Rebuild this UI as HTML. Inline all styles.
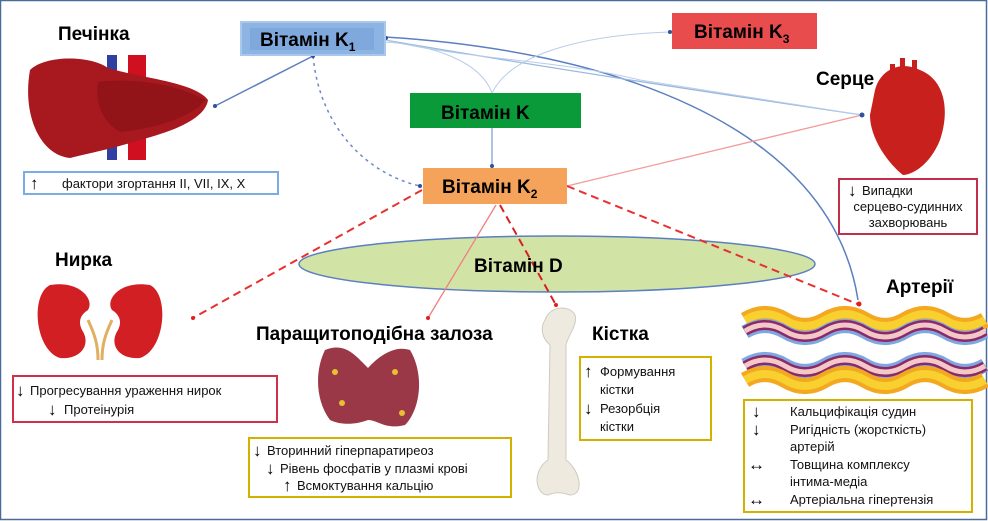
<!DOCTYPE html>
<html><head><meta charset="utf-8"><style>
html,body{margin:0;padding:0;background:#fff}
svg{display:block}
text{font-family:"Liberation Sans",sans-serif}
.b{font-weight:bold;font-size:19px;fill:#000}
.s{font-size:13px;fill:#111}
.a{font-size:17px;fill:#000;font-weight:bold}
</style></head><body>
<svg width="988" height="521" viewBox="0 0 988 521" xmlns="http://www.w3.org/2000/svg">
<rect x="0.5" y="0.5" width="986" height="519" fill="#fff" stroke="#4a6a9a" stroke-width="1.5"/>

<ellipse cx="557" cy="264" rx="258" ry="28" fill="#d2e3a6" stroke="#5b7fc0" stroke-width="1.5"/>

<g fill="none">
<path d="M385 37 C600 50 830 120 858 300" stroke="#5b7fc0" stroke-width="1.5"/>
<path d="M385 40 C560 70 760 100 862 115" stroke="#9ab8e0" stroke-width="1.3"/>
<path d="M385 40 C470 60 560 60 640 80 L862 115" stroke="#b8cde8" stroke-width="1"/>
<path d="M492 93 C480 60 430 45 385 42" stroke="#b8cde8" stroke-width="1"/>
<path d="M492 93 C510 55 580 35 670 32" stroke="#b8cde8" stroke-width="1"/>
<path d="M492 128 L492 166" stroke="#7a9ad0" stroke-width="1.2"/>
<path d="M313 56 L215 106" stroke="#5b7fc0" stroke-width="1.5"/>
<path d="M313 56 C320 130 370 175 420 186" stroke="#6a88c8" stroke-width="1.5" stroke-dasharray="3,4"/>
<path d="M567 186 L862 115" stroke="#f29a9a" stroke-width="1.3"/>
<path d="M567 186 L860 305" stroke="#e83030" stroke-width="2" stroke-dasharray="8,5"/>
<path d="M422 190 L193 318" stroke="#e83030" stroke-width="2" stroke-dasharray="8,5"/>
<path d="M496 205 L428 318" stroke="#f08080" stroke-width="1.3"/>
<path d="M500 205 L556 305" stroke="#d82020" stroke-width="2" stroke-dasharray="8,5"/>
</g>
<g fill="#3050a0"><circle cx="215" cy="106" r="2"/><circle cx="313" cy="56" r="2"/><circle cx="420" cy="186" r="2"/><circle cx="862" cy="115" r="2.5"/><circle cx="670" cy="32" r="2"/><circle cx="492" cy="166" r="2"/><circle cx="386" cy="38" r="2"/></g>
<g fill="#e02020"><circle cx="193" cy="318" r="2"/><circle cx="428" cy="318" r="2"/><circle cx="556" cy="305" r="2"/><circle cx="859" cy="304" r="2.5"/></g>

<rect x="241" y="22" width="144" height="33" fill="#8db4e2" stroke="#a8c8ec" stroke-width="2"/>
<rect x="250" y="28" width="124" height="22" fill="#7fa9dc"/>
<text x="260" y="46" class="b">Вітамін K<tspan font-size="12" dy="5">1</tspan></text>
<rect x="672" y="13" width="145" height="36" fill="#e84c4c"/>
<text x="694" y="38" class="b">Вітамін K<tspan font-size="12" dy="5">3</tspan></text>
<rect x="410" y="93" width="171" height="35" fill="#0a9a3a"/>
<text x="441" y="119" class="b">Вітамін K</text>
<rect x="423" y="168" width="144" height="36" fill="#f5a35a"/>
<text x="442" y="193" class="b">Вітамін K<tspan font-size="12" dy="5">2</tspan></text>
<text x="474" y="272" class="b">Вітамін D</text>

<text x="58" y="40" class="b">Печінка</text>
<text x="816" y="85" class="b">Серце</text>
<text x="55" y="266" class="b">Нирка</text>
<text x="256" y="340" class="b">Паращитоподібна залоза</text>
<text x="592" y="340" class="b">Кістка</text>
<text x="886" y="293" class="b">Артерії</text>

<!-- liver -->
<rect x="107" y="55" width="10" height="105" fill="#3040a0"/>
<rect x="128" y="55" width="18" height="105" fill="#d01020"/>
<path d="M30 70 C45 55 90 55 108 68 C140 78 195 82 208 100 C205 120 170 132 140 140 C115 148 95 152 70 158 C40 155 22 115 30 70Z" fill="#a8181f"/>
<path d="M98 82 C125 78 175 82 205 100 C195 115 160 128 120 132 C100 120 95 100 98 82Z" fill="#921418"/>
<!-- heart -->
<path d="M875 90 C880 70 900 60 920 70 C945 80 950 110 940 140 C930 165 912 175 903 175 C890 165 870 140 870 115 Z" fill="#c8201c"/>
<rect x="900" y="58" width="5" height="20" fill="#c8201c"/><rect x="912" y="60" width="5" height="18" fill="#c8201c"/><rect x="890" y="64" width="5" height="18" fill="#c8201c"/>
<!-- kidneys -->
<path d="M50 285 C30 295 35 350 60 358 C80 360 92 345 82 330 C78 322 80 315 88 310 C95 300 80 280 50 285Z" fill="#d21f24"/>
<path d="M150 285 C170 295 165 350 140 358 C120 360 108 345 118 330 C122 322 120 315 112 310 C105 300 120 280 150 285Z" fill="#d21f24"/>
<path d="M88 320 C95 335 98 345 98 360 M112 320 C105 335 102 345 102 360" stroke="#e0b060" stroke-width="3" fill="none"/>
<!-- parathyroid -->
<path d="M325 350 C345 342 355 355 368 368 C380 355 395 345 410 350 C425 375 420 410 405 425 C385 430 378 420 368 420 C355 425 340 425 330 420 C315 400 315 370 325 350Z" fill="#9a3848"/>
<g fill="#e8c030"><circle cx="335" cy="372" r="3"/><circle cx="395" cy="372" r="3"/><circle cx="342" cy="403" r="3"/><circle cx="402" cy="413" r="3"/></g>
<!-- bone -->
<path d="M545 320 C550 305 570 305 575 315 C578 325 568 335 566 345 L566 460 C580 470 585 495 570 495 C560 492 555 492 548 495 C535 495 532 470 548 460 L550 345 C542 338 540 328 545 320Z" fill="#eeeae0" stroke="#cfcbbf"/>
<!-- arteries -->
<g fill="none">
<path d="M745 320 q20 -12 40 0 t40 0 t40 0 t40 0 t40 0 t40 0" stroke="#f3a820" stroke-width="16"/>
<path d="M745 320 q20 -12 40 0 t40 0 t40 0 t40 0 t40 0 t40 0" stroke="#f8d030" stroke-width="8"/>
<path d="M745 332 q20 -12 40 0 t40 0 t40 0 t40 0 t40 0 t40 0" stroke="#80a8e0" stroke-width="14"/>
<path d="M745 331 q20 -12 40 0 t40 0 t40 0 t40 0 t40 0 t40 0" stroke="#8a2a6a" stroke-width="10"/>
<path d="M745 331 q20 -12 40 0 t40 0 t40 0 t40 0 t40 0 t40 0" stroke="#f5c8c8" stroke-width="5"/>
<path d="M745 365 q20 -12 40 0 t40 0 t40 0 t40 0 t40 0 t40 0" stroke="#80a8e0" stroke-width="14"/>
<path d="M745 366 q20 -12 40 0 t40 0 t40 0 t40 0 t40 0 t40 0" stroke="#8a2a6a" stroke-width="10"/>
<path d="M745 366 q20 -12 40 0 t40 0 t40 0 t40 0 t40 0 t40 0" stroke="#f5c8c8" stroke-width="5"/>
<path d="M745 380 q20 -12 40 0 t40 0 t40 0 t40 0 t40 0 t40 0" stroke="#f3a820" stroke-width="16"/>
<path d="M745 380 q20 -12 40 0 t40 0 t40 0 t40 0 t40 0 t40 0" stroke="#f8d030" stroke-width="8"/>
</g>

<rect x="24" y="172" width="254" height="22" fill="#fff" stroke="#7aaee0" stroke-width="2"/>
<text x="30" y="189" class="a">↑</text>
<text x="62" y="188" class="s">фактори згортання II, VII, IX, X</text>

<rect x="839" y="179" width="138" height="55" fill="#fff" stroke="#c0304a" stroke-width="2"/>
<text x="848" y="196" class="a">↓</text><text x="862" y="195" class="s">Випадки</text>
<text x="908" y="211" class="s" text-anchor="middle">серцево-судинних</text>
<text x="908" y="227" class="s" text-anchor="middle">захворювань</text>

<rect x="13" y="376" width="264" height="46" fill="#fff" stroke="#d0304a" stroke-width="2"/>
<text x="16" y="396" class="a">↓</text><text x="30" y="395" class="s">Прогресування ураження нирок</text>
<text x="48" y="415" class="a">↓</text><text x="64" y="414" class="s">Протеінурія</text>

<rect x="249" y="438" width="262" height="59" fill="#fff" stroke="#d4b000" stroke-width="2"/>
<text x="253" y="456" class="a">↓</text><text x="267" y="455" class="s">Вторинний гіперпаратиреоз</text>
<text x="266" y="474" class="a">↓</text><text x="280" y="473" class="s">Рівень фосфатів у плазмі крові</text>
<text x="283" y="491" class="a">↑</text><text x="297" y="490" class="s">Всмоктування кальцію</text>

<rect x="580" y="357" width="131" height="83" fill="#fff" stroke="#d4b000" stroke-width="2"/>
<text x="584" y="377" class="a">↑</text><text x="600" y="376" class="s">Формування</text>
<text x="600" y="394" class="s">кістки</text>
<text x="584" y="414" class="a">↓</text><text x="600" y="413" class="s">Резорбція</text>
<text x="600" y="431" class="s">кістки</text>

<rect x="744" y="400" width="228" height="112" fill="#fff" stroke="#d4b000" stroke-width="2"/>
<text x="752" y="417" class="a">↓</text><text x="790" y="416" class="s">Кальцифікація судин</text>
<text x="752" y="435" class="a">↓</text><text x="790" y="434" class="s">Ригідність (жорсткість)</text>
<text x="790" y="451" class="s">артерій</text>
<text x="748" y="470" class="a">↔</text><text x="790" y="469" class="s">Товщина комплексу</text>
<text x="790" y="486" class="s">інтима-медіа</text>
<text x="748" y="505" class="a">↔</text><text x="790" y="504" class="s">Артеріальна гіпертензія</text>
</svg>
</body></html>
